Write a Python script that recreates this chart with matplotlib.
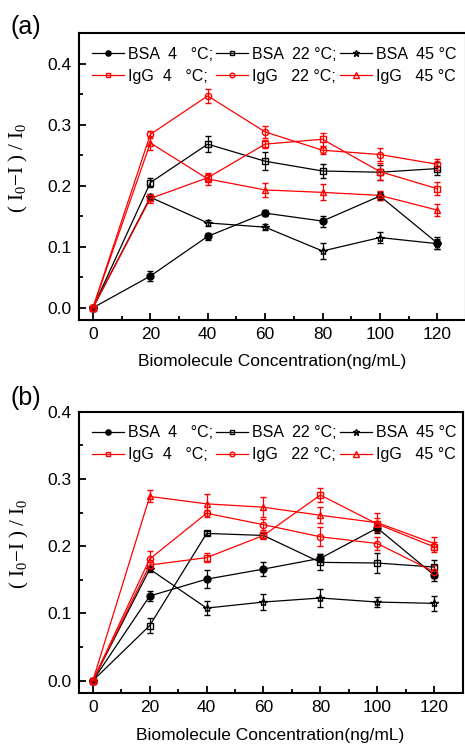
import matplotlib
matplotlib.use('Agg')
import matplotlib.pyplot as plt
from matplotlib.lines import Line2D
import numpy as np

plt.rcParams['font.family'] = 'Liberation Sans'
plt.rcParams['mathtext.fontset'] = 'custom'
plt.rcParams['mathtext.rm'] = 'Liberation Serif'

conc = [0, 20, 40, 60, 80, 100, 120]
labels = ['BSA  4   °C;', 'BSA  22 °C;', 'BSA  45 °C',
          'IgG  4   °C;', 'IgG   22 °C;', 'IgG   45 °C']

# panel (a)
a_bsa4 = [0, 0.052, 0.117, 0.155, 0.142, 0.183, 0.106]
a_bsa4_err = [0, 0.008, 0.006, 0.005, 0.009, 0.007, 0.010]
a_bsa22 = [0, 0.205, 0.268, 0.240, 0.224, 0.222, 0.228]
a_bsa22_err = [0, 0.008, 0.013, 0.015, 0.011, 0.012, 0.010]
a_bsa45 = [0, 0.181, 0.139, 0.132, 0.093, 0.115, 0.105]
a_bsa45_err = [0, 0.006, 0.005, 0.005, 0.013, 0.009, 0.008]
a_igg4 = [0, 0.179, 0.213, 0.268, 0.276, 0.223, 0.195]
a_igg4_err = [0, 0.008, 0.006, 0.006, 0.011, 0.014, 0.011]
a_igg22 = [0, 0.284, 0.347, 0.288, 0.258, 0.251, 0.235]
a_igg22_err = [0, 0.006, 0.012, 0.010, 0.006, 0.011, 0.009]
a_igg45 = [0, 0.270, 0.211, 0.193, 0.189, 0.184, 0.160]
a_igg45_err = [0, 0.012, 0.010, 0.011, 0.013, 0.007, 0.010]

# panel (b)
b_bsa4 = [0, 0.126, 0.151, 0.166, 0.182, 0.227, 0.157]
b_bsa4_err = [0, 0.007, 0.013, 0.010, 0.006, 0.007, 0.008]
b_bsa22 = [0, 0.082, 0.219, 0.216, 0.176, 0.175, 0.169]
b_bsa22_err = [0, 0.011, 0.003, 0.004, 0.012, 0.015, 0.011]
b_bsa45 = [0, 0.166, 0.108, 0.117, 0.123, 0.117, 0.115]
b_bsa45_err = [0, 0.005, 0.010, 0.012, 0.013, 0.008, 0.011]
b_igg4 = [0, 0.172, 0.183, 0.216, 0.276, 0.233, 0.199]
b_igg4_err = [0, 0.007, 0.007, 0.005, 0.011, 0.009, 0.008]
b_igg22 = [0, 0.181, 0.249, 0.232, 0.214, 0.204, 0.162]
b_igg22_err = [0, 0.012, 0.005, 0.008, 0.014, 0.009, 0.010]
b_igg45 = [0, 0.274, 0.263, 0.258, 0.246, 0.235, 0.204]
b_igg45_err = [0, 0.009, 0.014, 0.015, 0.012, 0.014, 0.010]

panel_a = [(a_bsa4, a_bsa4_err), (a_bsa22, a_bsa22_err), (a_bsa45, a_bsa45_err),
           (a_igg4, a_igg4_err), (a_igg22, a_igg22_err), (a_igg45, a_igg45_err)]
panel_b = [(b_bsa4, b_bsa4_err), (b_bsa22, b_bsa22_err), (b_bsa45, b_bsa45_err),
           (b_igg4, b_igg4_err), (b_igg22, b_igg22_err), (b_igg45, b_igg45_err)]

styles = [('k', 'o', 'k'), ('k', 's', 'none'), ('k', '*', 'none'),
          ('r', 's', 'none'), ('r', 'o', 'none'), ('r', '^', 'none')]
msizes = [5, 4.5, 6, 4.5, 4.5, 5]

fig = plt.figure(figsize=(4.65, 7.44), dpi=100)
ax_a = fig.add_axes([78.6/465, 1-320/744, 387.4/465, 287/744])
ax_b = fig.add_axes([78.6/465, 1-693.3/744, 384/465, 281.6/744])


def draw(ax, series, ylim):
    handles = []
    for (vals, err), (c, m, fc), ms in zip(series, styles, msizes):
        ax.errorbar(conc, vals, yerr=err, color=c, marker=m, mfc=fc, mec=c,
                    ms=ms, mew=1, lw=0.9, capsize=2.5, elinewidth=0.9, capthick=0.9)
        handles.append(Line2D([], [], color=c, marker=m, mfc=fc, mec=c,
                              ms=ms * 0.75, mew=1, lw=0.9))
    ax.set_xlim(-5, 130)
    ax.set_ylim(*ylim)
    ax.set_xticks(conc)
    ax.set_xticks(range(10, 130, 20), minor=True)
    ax.set_yticks([0.0, 0.1, 0.2, 0.3, 0.4])
    ax.set_yticks([0.05, 0.15, 0.25, 0.35], minor=True)
    ax.yaxis.set_major_formatter(matplotlib.ticker.FormatStrFormatter('%.1f'))
    ax.tick_params(which='both', direction='in', width=1.3, labelsize=12.5,
                   top=False, right=False)
    ax.tick_params(which='major', length=5, pad=5)
    ax.tick_params(which='minor', length=3)
    for s in ax.spines.values():
        s.set_linewidth(1.5)
    ax.set_xlabel('Biomolecule Concentration(ng/mL)', fontsize=12.5, labelpad=9)
    ax.set_ylabel('( I$_0$\u2212I ) / I$_0$', fontsize=15,
                  family='Liberation Serif')
    ax.yaxis.set_label_coords(-0.125, 0.53)
    order = [0, 3, 1, 4, 2, 5]
    ax.legend([handles[i] for i in order], [labels[i] for i in order], ncol=3,
              loc='upper left', bbox_to_anchor=(0.0, 1.0), frameon=False,
              fontsize=11.5, handlelength=2.0, handletextpad=0.25,
              columnspacing=0.2, labelspacing=0.45, borderaxespad=0.45)


draw(ax_a, panel_a, (-0.02, 0.45))
draw(ax_b, panel_b, (-0.0187, 0.4))

fig.text(26/465, 1-27/744, '(a)', fontsize=18, ha='center', va='center')
fig.text(26/465, 1-398/744, '(b)', fontsize=18, ha='center', va='center')

fig.savefig('out.png', dpi=100)
